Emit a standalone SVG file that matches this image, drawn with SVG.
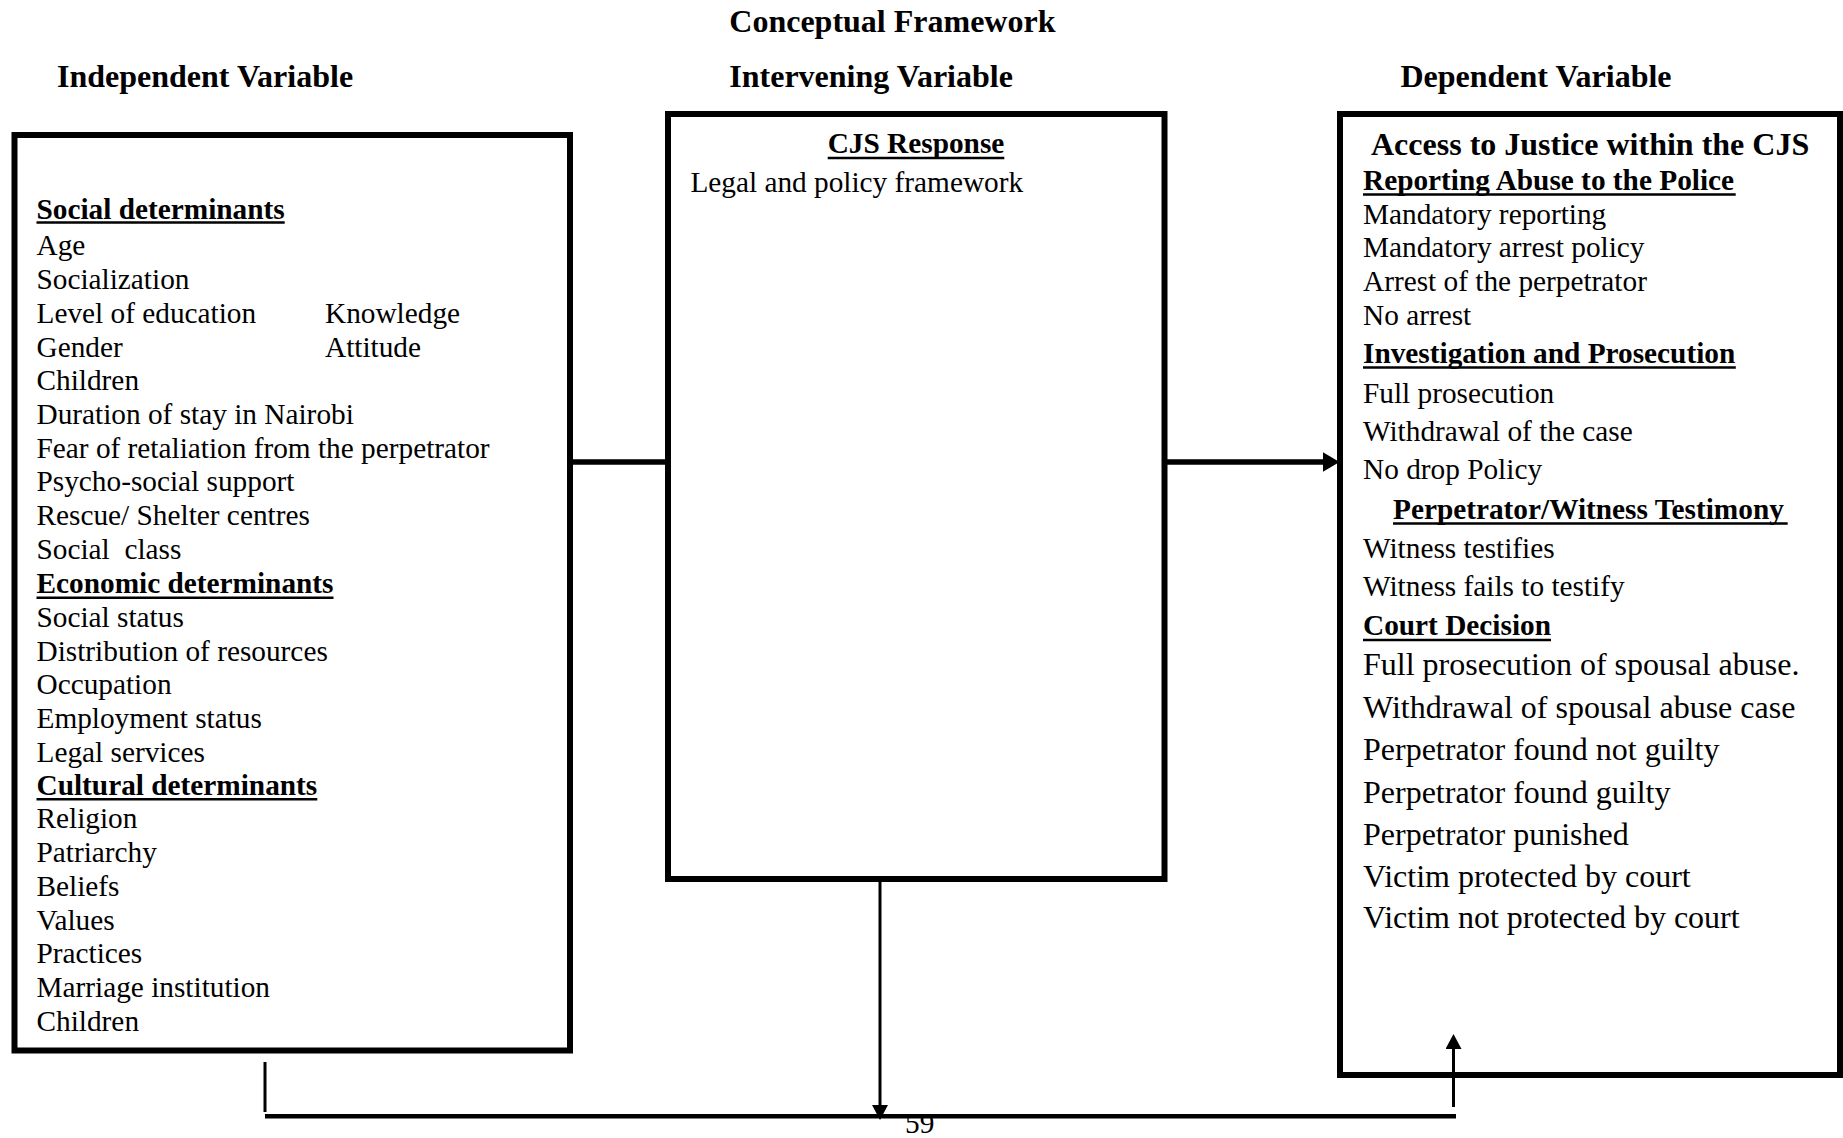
<svg xmlns="http://www.w3.org/2000/svg" width="1843" height="1138" viewBox="0 0 1843 1138">
<style>
  text { font-family: "Liberation Serif", "Times New Roman", serif; font-size: 29.3px; fill: #000; }
  .b { font-weight: bold; }
  .h { font-size: 32px; font-weight: bold; }
  .big { font-size: 32px; }
  .box { fill: none; stroke: #000; stroke-width: 6; }
  .ul { stroke: #000; stroke-width: 2.5; }
  .thick { stroke: #000; stroke-width: 5.5; fill: none; }
  .thin { stroke: #000; stroke-width: 3; fill: none; }
  .bus { stroke: #000; stroke-width: 4.5; fill: none; }
</style>
<defs>
  <marker id="arrowBig" markerUnits="userSpaceOnUse" markerWidth="17" markerHeight="20" refX="0.5" refY="10" orient="auto">
    <path d="M0,0 L17,10 L0,20 Z" fill="#000"/>
  </marker>
  <marker id="arrowSmall" markerUnits="userSpaceOnUse" markerWidth="15" markerHeight="16" refX="0.5" refY="8" orient="auto">
    <path d="M0,0 L15,8 L0,16 Z" fill="#000"/>
  </marker>
</defs>
<rect width="1843" height="1138" fill="#fff"/>

<g id="title">
  <text class="h" x="729.3" y="31.7">Conceptual Framework</text>
</g>

<g id="independent">
  <text class="h" x="57" y="87.3">Independent Variable</text>
  <rect class="box" x="14.5" y="135" width="555.5" height="915.5"/>
  <text class="b" x="36.5" y="218.5">Social determinants</text>
  <line class="ul" x1="36.5" y1="222.5" x2="284.7" y2="222.5"/>
  <text x="36.5" y="255">Age</text>
  <text x="36.5" y="289">Socialization</text>
  <text x="36.5" y="322.5">Level of education</text>
  <text x="325" y="322.5">Knowledge</text>
  <text x="36.5" y="356.5">Gender</text>
  <text x="325" y="356.5">Attitude</text>
  <text x="36.5" y="390">Children</text>
  <text x="36.5" y="423.5">Duration of stay in Nairobi</text>
  <text x="36.5" y="457.5">Fear of retaliation from the perpetrator</text>
  <text x="36.5" y="491">Psycho-social support</text>
  <text x="36.5" y="525">Rescue/ Shelter centres</text>
  <text x="36.5" y="558.5" xml:space="preserve">Social  class</text>
  <text class="b" x="36.5" y="593">Economic determinants</text>
  <line class="ul" x1="36.5" y1="597.8" x2="333.5" y2="597.8"/>
  <text x="36.5" y="627">Social status</text>
  <text x="36.5" y="660.5">Distribution of resources</text>
  <text x="36.5" y="694">Occupation</text>
  <text x="36.5" y="728">Employment status</text>
  <text x="36.5" y="761.5">Legal services</text>
  <text class="b" x="36.5" y="794.5">Cultural determinants</text>
  <line class="ul" x1="36.5" y1="799.3" x2="317.3" y2="799.3"/>
  <text x="36.5" y="828.3">Religion</text>
  <text x="36.5" y="862">Patriarchy</text>
  <text x="36.5" y="896">Beliefs</text>
  <text x="36.5" y="929.5">Values</text>
  <text x="36.5" y="963">Practices</text>
  <text x="36.5" y="997">Marriage institution</text>
  <text x="36.5" y="1030.7">Children</text>
</g>

<g id="intervening">
  <text class="h" x="729.3" y="87.3">Intervening Variable</text>
  <rect class="box" x="668" y="114" width="496.5" height="765"/>
  <text class="b" x="916" y="153.3" text-anchor="middle">CJS Response</text>
  <line class="ul" x1="827.7" y1="158" x2="1004.3" y2="158"/>
  <text x="690.4" y="191.7">Legal and policy framework</text>
</g>

<g id="dependent">
  <text class="h" x="1400.4" y="87.3">Dependent Variable</text>
  <rect class="box" x="1340" y="114" width="500" height="961"/>
  <text class="h" x="1371" y="155">Access to Justice within the CJS</text>
  <text class="b" x="1363" y="190">Reporting Abuse to the Police</text>
  <line class="ul" x1="1363" y1="194.5" x2="1735.7" y2="194.5"/>
  <text x="1363" y="223.5">Mandatory reporting</text>
  <text x="1363" y="257">Mandatory arrest policy</text>
  <text x="1363" y="291">Arrest of the perpetrator</text>
  <text x="1363" y="324.5">No arrest</text>
  <text class="b" x="1363" y="362.5">Investigation and Prosecution</text>
  <line class="ul" x1="1363" y1="367.5" x2="1735.8" y2="367.5"/>
  <text x="1363" y="402.7">Full prosecution</text>
  <text x="1363" y="440.5">Withdrawal of the case</text>
  <text x="1363" y="479">No drop Policy</text>
  <text class="b" x="1393" y="519">Perpetrator/Witness Testimony</text>
  <line class="ul" x1="1393" y1="523.5" x2="1787.7" y2="523.5"/>
  <text x="1363" y="557.5">Witness testifies</text>
  <text x="1363" y="596">Witness fails to testify</text>
  <text class="b" x="1363" y="635">Court Decision</text>
  <line class="ul" x1="1363" y1="640" x2="1551" y2="640"/>
  <text class="big" x="1363" y="675">Full prosecution of spousal abuse.</text>
  <text class="big" x="1363" y="718">Withdrawal of spousal abuse case</text>
  <text class="big" x="1363" y="760">Perpetrator found not guilty</text>
  <text class="big" x="1363" y="803">Perpetrator found guilty</text>
  <text class="big" x="1363" y="844.5">Perpetrator punished</text>
  <text class="big" x="1363" y="886.7">Victim protected by court</text>
  <text class="big" x="1363" y="928.3">Victim not protected by court</text>
</g>

<g id="connectors">
  <line class="thick" x1="570" y1="462" x2="668" y2="462"/>
  <line class="thick" x1="1164.5" y1="462" x2="1323" y2="462" marker-end="url(#arrowBig)"/>
  <line class="thin" x1="880" y1="879" x2="880" y2="1105.5" marker-end="url(#arrowSmall)"/>
  <line class="thin" x1="265" y1="1062" x2="265" y2="1112"/>
  <line class="bus" x1="265" y1="1116.3" x2="1456" y2="1116.3"/>
  <line class="thin" x1="1453.5" y1="1107" x2="1453.5" y2="1048.5" marker-end="url(#arrowSmall)"/>
</g>

<g id="page-number">
  <text x="905" y="1133">59</text>
</g>
</svg>
